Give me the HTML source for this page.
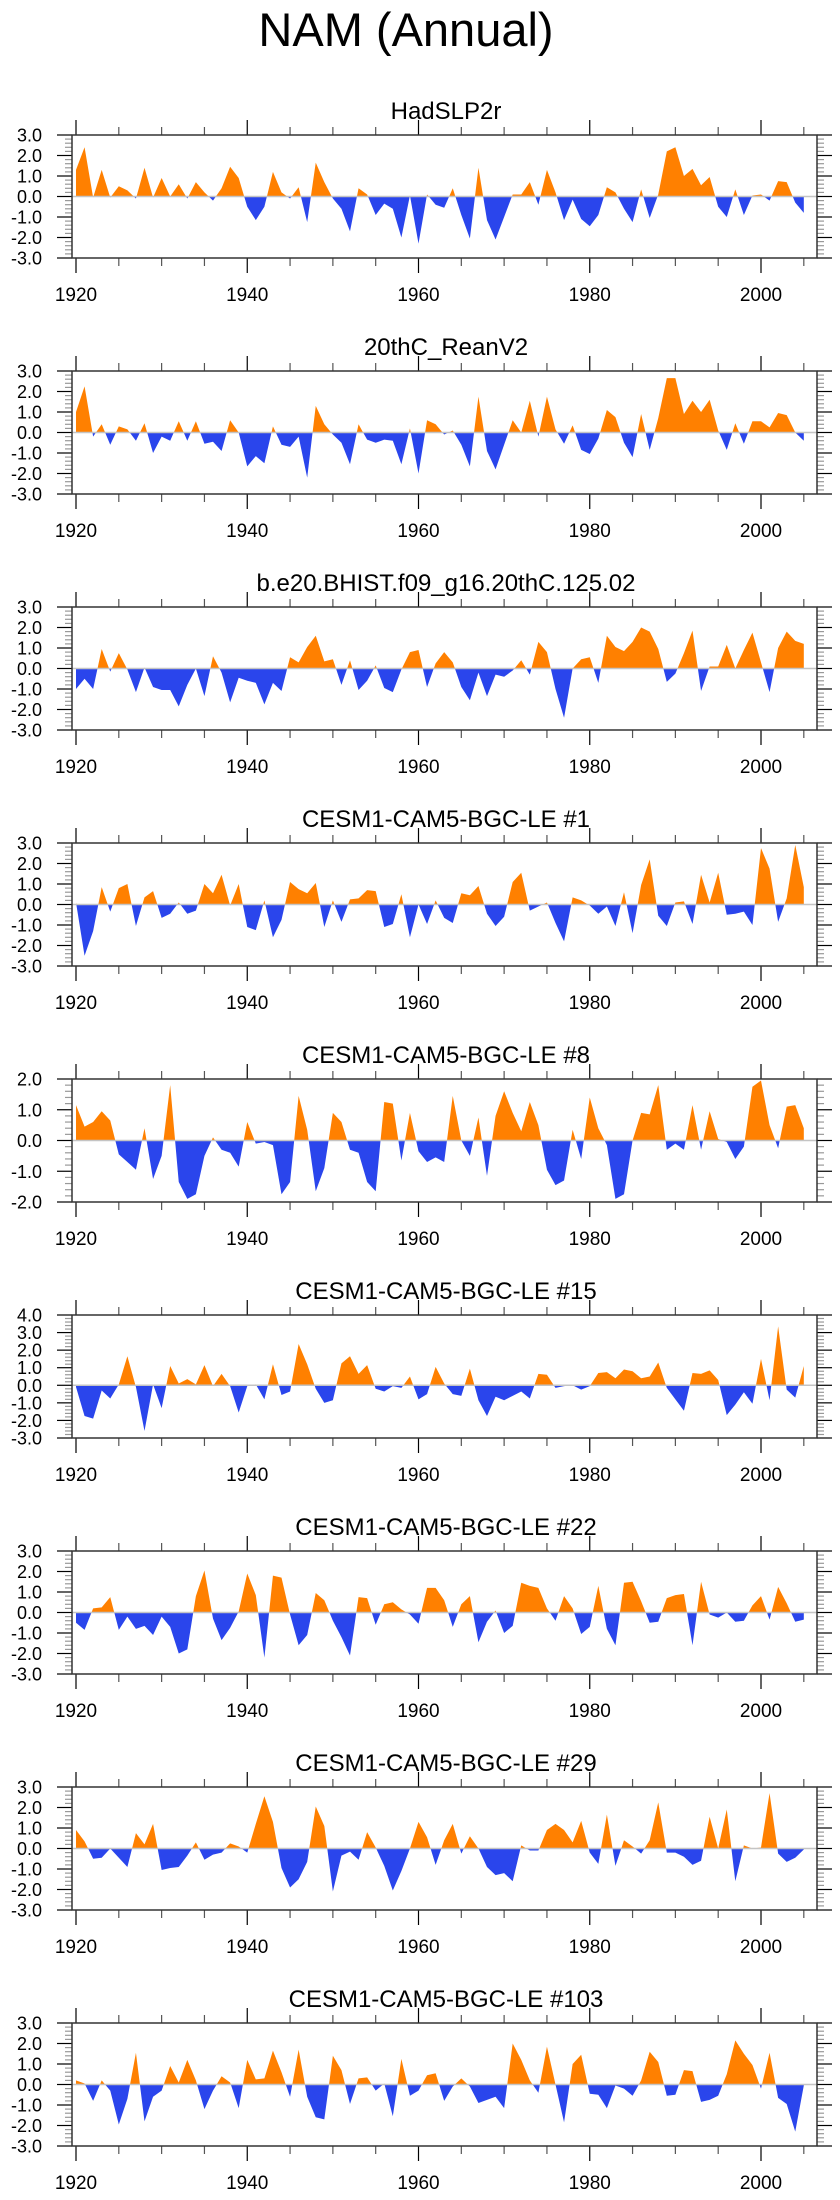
<!DOCTYPE html>
<html><head><meta charset="utf-8"><style>
html,body{margin:0;padding:0;background:#fff}
svg{display:block}
text{font-family:"Liberation Sans",sans-serif;fill:#000}
</style></head><body>
<svg id="chart" width="840" height="2200" viewBox="0 0 840 2200" xmlns="http://www.w3.org/2000/svg">
<text x="406" y="46" font-size="47" text-anchor="middle">NAM (Annual)</text>
</svg>
<script>
const years = []; for (let y = 1920; y <= 2005; y++) years.push(y);
const xTickYears = [1920,1925,1930,1935,1940,1945,1950,1955,1960,1965,1970,1975,1980,1985,1990,1995,2000,2005];
const xLabelYears = [1920,1940,1960,1980,2000];
const panelTitles = ["HadSLP2r","20thC_ReanV2","b.e20.BHIST.f09_g16.20thC.125.02","CESM1-CAM5-BGC-LE #1","CESM1-CAM5-BGC-LE #8","CESM1-CAM5-BGC-LE #15","CESM1-CAM5-BGC-LE #22","CESM1-CAM5-BGC-LE #29","CESM1-CAM5-BGC-LE #103"];
const yMins = [-3,-3,-3,-3,-2,-3,-3,-3,-3];
const yMaxs = [3,3,3,3,2,4,3,3,3];
const s1 = [1.3,2.4,-0.05,1.3,-0.05,0.5,0.3,-0.1,1.4,-0.05,0.9,0,0.6,-0.1,0.7,0.2,-0.2,0.4,1.45,0.9,-0.5,-1.15,-0.5,1.2,0.2,-0.1,0.45,-1.25,1.65,0.7,-0.1,-0.6,-1.7,0.4,0.1,-0.9,-0.35,-0.6,-2.0,0.05,-2.3,0.1,-0.4,-0.55,0.4,-0.9,-2.05,1.4,-1.15,-2.1,-1.0,0.1,0.1,0.7,-0.4,1.3,0.2,-1.15,-0.15,-1.1,-1.45,-0.9,0.45,0.2,-0.6,-1.25,0.35,-1.05,0.1,2.2,2.4,1.0,1.35,0.55,0.95,-0.5,-1.0,0.35,-0.9,0.05,0.1,-0.2,0.75,0.7,-0.3,-0.8];
const s2 = [1.0,2.25,-0.2,0.4,-0.6,0.3,0.15,-0.4,0.45,-1.0,-0.2,-0.4,0.55,-0.4,0.55,-0.55,-0.45,-0.9,0.6,0.0,-1.65,-1.15,-1.5,0.3,-0.6,-0.7,-0.2,-2.2,1.3,0.4,-0.1,-0.5,-1.55,0.4,-0.35,-0.5,-0.35,-0.4,-1.55,0.2,-2.0,0.6,0.4,-0.1,0.1,-0.6,-1.65,1.75,-0.9,-1.8,-0.6,0.6,0.0,1.55,-0.2,1.75,0.15,-0.55,0.35,-0.85,-1.05,-0.3,1.1,0.75,-0.5,-1.2,0.9,-0.85,0.7,2.65,2.65,0.9,1.55,1.0,1.6,0.1,-0.85,0.45,-0.55,0.55,0.55,0.25,0.95,0.85,0.0,-0.4];
const s3 = [-1.0,-0.5,-1.0,0.95,-0.15,0.75,-0.05,-1.15,0.05,-0.9,-1.05,-1.05,-1.85,-0.8,0.0,-1.35,0.6,-0.2,-1.65,-0.45,-0.6,-0.7,-1.75,-0.7,-1.1,0.55,0.3,1.05,1.6,0.35,0.45,-0.8,0.4,-1.05,-0.6,0.15,-0.95,-1.15,-0.05,0.8,0.9,-0.9,0.25,0.8,0.3,-0.9,-1.55,-0.2,-1.35,-0.3,-0.4,-0.1,0.4,-0.3,1.3,0.8,-1.0,-2.4,0.0,0.45,0.55,-0.7,1.6,1.05,0.85,1.3,2.0,1.8,0.95,-0.65,-0.25,0.75,1.85,-1.1,0.1,0.1,1.15,0.0,0.9,1.75,0.3,-1.15,1.0,1.8,1.35,1.2];
const s4 = [0.1,-2.5,-1.3,0.85,-0.35,0.8,1.0,-1.05,0.35,0.65,-0.65,-0.45,0.1,-0.45,-0.3,1.0,0.55,1.45,-0.05,1.0,-1.1,-1.25,0.2,-1.6,-0.75,1.1,0.75,0.55,1.05,-1.1,0.2,-0.85,0.25,0.3,0.7,0.65,-1.1,-0.95,0.5,-1.6,0.0,-0.95,0.2,-0.65,-0.9,0.55,0.45,0.9,-0.45,-1.05,-0.6,1.1,1.55,-0.3,-0.1,0.1,-0.9,-1.8,0.35,0.2,-0.05,-0.45,-0.1,-1.05,0.6,-1.4,0.95,2.2,-0.55,-1.05,0.1,0.15,-0.95,1.45,0.1,1.55,-0.5,-0.45,-0.35,-1.0,2.75,1.75,-0.85,0.3,2.9,0.85];
const s5 = [1.15,0.45,0.6,0.95,0.65,-0.45,-0.7,-0.95,0.4,-1.25,-0.5,1.8,-1.35,-1.9,-1.75,-0.5,0.1,-0.3,-0.4,-0.85,0.6,-0.1,-0.05,-0.15,-1.75,-1.35,1.45,0.35,-1.65,-0.9,0.9,0.6,-0.3,-0.4,-1.35,-1.65,1.25,1.2,-0.65,0.9,-0.35,-0.7,-0.55,-0.7,1.45,0.0,-0.5,0.75,-1.15,0.8,1.6,0.9,0.3,1.25,0.5,-0.95,-1.45,-1.3,0.35,-0.6,1.4,0.4,-0.15,-1.9,-1.75,0.0,0.9,0.85,1.8,-0.3,-0.1,-0.3,1.15,-0.3,0.95,0.05,-0.05,-0.6,-0.2,1.75,1.95,0.5,-0.25,1.1,1.15,0.4];
const s6 = [-0.1,-1.75,-1.9,-0.3,-0.75,0.05,1.65,-0.1,-2.6,0.05,-1.3,1.1,0.1,0.35,0.05,1.15,-0.05,0.65,-0.05,-1.55,-0.05,0.05,-0.8,1.2,-0.55,-0.35,2.35,1.2,-0.2,-1.0,-0.85,1.25,1.65,0.65,1.15,-0.2,-0.35,-0.05,-0.15,0.5,-0.8,-0.5,1.05,0.1,-0.5,-0.6,0.95,-0.85,-1.75,-0.65,-0.85,-0.6,-0.35,-0.75,0.65,0.6,-0.15,-0.05,0.0,-0.25,-0.05,0.7,0.75,0.4,0.9,0.8,0.4,0.5,1.3,-0.15,-0.8,-1.45,0.7,0.65,0.85,0.3,-1.7,-1.1,-0.4,-1.05,1.5,-0.85,3.35,-0.25,-0.7,1.1];
const s7 = [-0.5,-0.85,0.2,0.25,0.75,-0.85,-0.2,-0.8,-0.65,-1.1,-0.2,-0.7,-2.0,-1.8,0.8,2.05,-0.3,-1.35,-0.75,0.05,1.9,0.85,-2.2,1.8,1.7,-0.1,-1.6,-1.1,0.95,0.6,-0.4,-1.2,-2.1,0.75,0.7,-0.6,0.4,0.5,0.15,-0.1,-0.55,1.2,1.2,0.6,-0.7,0.4,0.8,-1.45,-0.45,0.1,-1.0,-0.65,1.45,1.3,1.2,0.2,-0.4,0.8,0.2,-1.05,-0.7,1.3,-0.8,-1.6,1.45,1.5,0.55,-0.5,-0.45,0.7,0.85,0.9,-1.6,1.5,-0.1,-0.25,0.0,-0.45,-0.4,0.35,0.8,-0.35,1.25,0.45,-0.45,-0.35];
const s8 = [0.9,0.35,-0.5,-0.45,0.0,-0.45,-0.9,0.75,0.2,1.2,-1.05,-0.95,-0.9,-0.35,0.3,-0.55,-0.3,-0.2,0.25,0.1,-0.2,1.2,2.55,1.3,-0.95,-1.9,-1.5,-0.65,2.05,1.1,-2.1,-0.35,-0.15,-0.55,0.8,0.05,-0.85,-2.05,-1.1,0.0,1.3,0.55,-0.8,0.4,1.2,-0.25,0.6,0.0,-0.9,-1.3,-1.2,-1.6,0.15,-0.1,-0.1,0.9,1.2,0.9,0.3,1.35,-0.2,-0.75,1.65,-0.85,0.4,0.1,-0.25,0.4,2.25,-0.2,-0.2,-0.4,-0.8,-0.6,1.55,0.0,1.9,-1.6,0.15,0.0,0.05,2.7,-0.25,-0.65,-0.45,-0.05];
const s9 = [0.2,0.05,-0.8,0.2,-0.3,-1.95,-0.7,1.55,-1.8,-0.6,-0.3,0.9,0.1,1.2,0.2,-1.2,-0.3,0.4,0.1,-1.15,1.2,0.25,0.3,1.65,0.6,-0.6,1.7,-0.6,-1.6,-1.7,1.4,0.7,-0.95,0.3,0.35,-0.3,0.05,-1.55,1.25,-0.55,-0.3,0.45,0.55,-0.8,-0.1,0.3,-0.1,-0.9,-0.75,-0.6,-1.15,2.0,1.2,0.2,-0.4,1.85,0.0,-1.85,1.0,1.45,-0.45,-0.5,-1.15,-0.05,-0.2,-0.55,0.2,1.6,1.1,-0.55,-0.5,0.7,0.65,-0.85,-0.75,-0.55,0.5,2.15,1.5,0.95,-0.2,1.55,-0.65,-0.95,-2.3,-0.05];
const seriesList = [s1,s2,s3,s4,s5,s6,s7,s8,s9];

const NS = "http://www.w3.org/2000/svg";
const svg = document.getElementById("chart");
const BOX_L = 72, BOX_R = 817, BOX_H = 123, TOP0 = 135, PSTEP = 236;
function xScale(yr){ return 76 + (yr - 1920) * 8.5625; }
function mk(tag, attrs, parent){ const e = document.createElementNS(NS, tag); for (const k in attrs) e.setAttribute(k, attrs[k]); parent.appendChild(e); return e; }

seriesList.forEach((vals, p) => {
  const top = TOP0 + PSTEP * p, bot = top + BOX_H;
  const ymin = yMins[p], ymax = yMaxs[p];
  const yScale = v => top + (ymax - v) / (ymax - ymin) * BOX_H;
  const g = mk("g", {}, svg);
  
  

  const t = mk("text", {x: 446, y: top - 16, "font-size": 24, "text-anchor": "middle"}, g);
  t.textContent = panelTitles[p];
  
  

  const y0 = yScale(0);
  const cid = "c" + p;
  const defs = mk("defs", {}, g);
  const cp = mk("clipPath", {id: cid + "p"}, defs);
  mk("rect", {x: BOX_L, y: top, width: BOX_R - BOX_L, height: y0 - top}, cp);
  const cn = mk("clipPath", {id: cid + "n"}, defs);
  mk("rect", {x: BOX_L, y: y0, width: BOX_R - BOX_L, height: bot - y0}, cn);
  let d = "M" + xScale(years[0]) + " " + y0;
  vals.forEach((v, i) => { d += " L" + xScale(years[i]).toFixed(2) + " " + yScale(v).toFixed(2); });
  d += " L" + xScale(years[vals.length - 1]) + " " + y0 + " Z";
  const pos = mk("path", {d: d, fill: "#ff8000", "clip-path": "url(#" + cid + "p)"}, g);
  
  
  const neg = mk("path", {d: d, fill: "#2a45ec", "clip-path": "url(#" + cid + "n)"}, g);
  
  

  const zl = mk("line", {x1: BOX_L, x2: BOX_R, y1: y0, y2: y0, stroke: "#c4c4c4", "stroke-width": 1.5}, g);
  
  

  // y ticks
  for (let k = Math.round(ymin * 5); k <= Math.round(ymax * 5); k++) {
    const v = k / 5, yy = yScale(v), major = (k % 5 === 0);
    const len = major ? 15 : 7, col = major ? "#000" : "#999";
    mk("line", {x1: BOX_L - len, x2: BOX_L, y1: yy, y2: yy, stroke: col, "stroke-width": 1.2}, g);
    mk("line", {x1: BOX_R, x2: BOX_R + len, y1: yy, y2: yy, stroke: col, "stroke-width": 1.2}, g);
    if (major) {
      const lab = mk("text", {x: 42, y: yy + 6.5, "font-size": 18, "text-anchor": "end"}, g);
      lab.textContent = v.toFixed(1);
      
      
    }
  }
  // x ticks
  xTickYears.forEach(yr => {
    const xx = xScale(yr), major = (yr % 20 === 0), len = major ? 15 : 8;
    mk("line", {x1: xx, x2: xx, y1: top - len, y2: top, stroke: major ? "#000" : "#555", "stroke-width": 1.2}, g);
    mk("line", {x1: xx, x2: xx, y1: bot, y2: bot + len, stroke: major ? "#000" : "#555", "stroke-width": 1.2}, g);
  });
  xLabelYears.forEach(yr => {
    const lab = mk("text", {x: xScale(yr), y: bot + 43, "font-size": 19, "text-anchor": "middle"}, g);
    lab.textContent = yr;
    
    
  });
  const box = mk("rect", {x: BOX_L, y: top, width: BOX_R - BOX_L, height: BOX_H, fill: "none", stroke: "#333", "stroke-width": 1.5}, g);
  
  
});
</script>
</body></html>
